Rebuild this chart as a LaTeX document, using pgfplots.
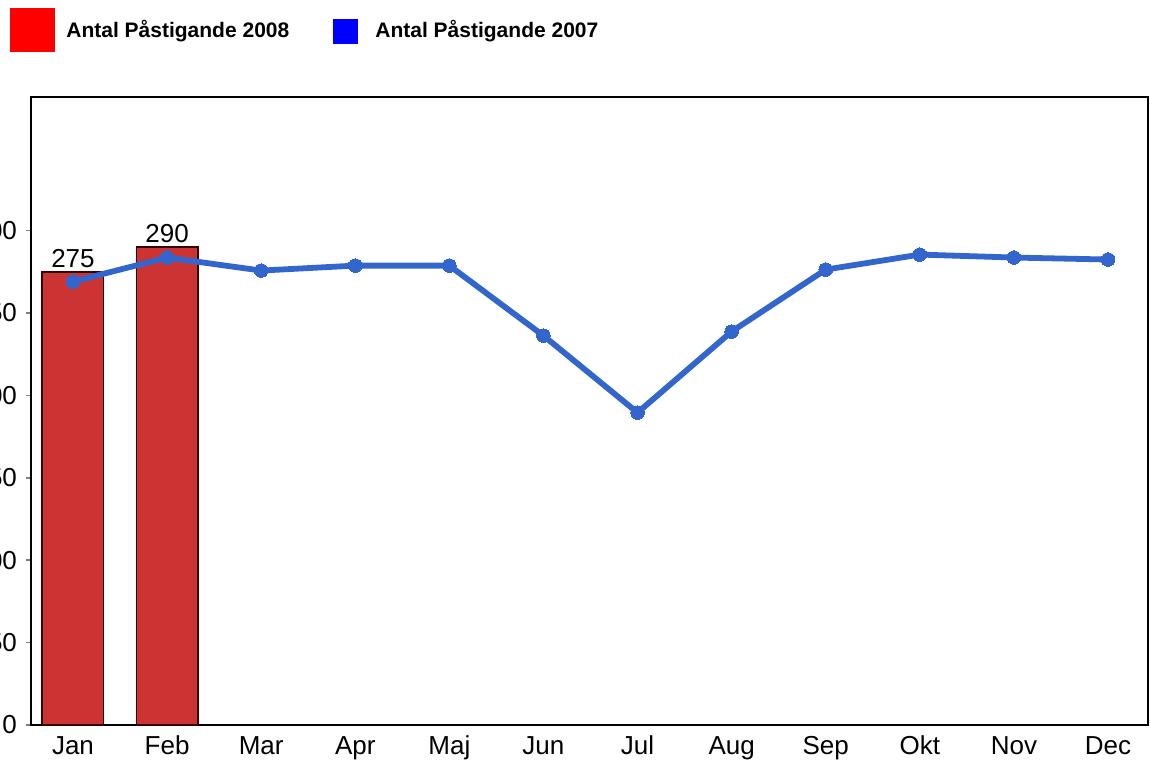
\documentclass[border=0pt]{standalone}
\usepackage{fontspec}
\setmainfont{Liberation Sans}
\usepackage{pgfplots}
\pgfplotsset{compat=1.18}
\definecolor{barred}{HTML}{CC3333}
\definecolor{barline}{HTML}{330000}
\definecolor{lineblue}{HTML}{3366CC}
\begin{document}
\begin{tikzpicture}[x=1pt,y=1pt]
\useasboundingbox (0,0) rectangle (575,381);
\clip (0,0) rectangle (575,381);
\begin{axis}[
  at={(15.5pt,18.5pt)}, anchor=south west,
  scale only axis, width=558.5pt, height=314pt,
  xmin=-0.446, xmax=11.425, ymin=0, ymax=381,
  xtick={0,...,11},
  xticklabels={Jan,Feb,Mar,Apr,Maj,Jun,Jul,Aug,Sep,Okt,Nov,Dec},
  ytick={0,50,...,300},
  axis line style={line width=1pt},
  tick align=outside, ytick pos=left, xtick pos=bottom,
  major tick length=2.5pt,
  xtick style={draw=none},
  ytick style={line width=0.8pt},
  tick label style={font=\fontsize{13}{15}\selectfont},
  /pgf/number format/assume math mode=true,
  yticklabel style={xshift=-1pt},
  xticklabel style={anchor=base, yshift=-12pt},
]
\addplot[ybar, bar width=0.65, fill=barred, draw=barline, line width=0.9pt,
  nodes near coords,
  nodes near coords style={font=\fontsize{13}{15}\selectfont, inner sep=1.5pt, text=black}]
  coordinates {(0,275) (1,290)};
\addplot[lineblue, line width=2.9pt, mark=*, mark size=3.4pt,
  mark options={fill=lineblue, draw=lineblue, line width=0pt}]
  coordinates {(0,269) (1,283.6) (2,275.7) (3,278.7) (4,278.7) (5,236.2)
               (6,189.5) (7,238.7) (8,276.3) (9,285.4) (10,283.6) (11,282.4)};
\end{axis}
\fill[red] (5,355) rectangle (27.5,377);
\node[anchor=west, inner sep=0pt, font=\fontsize{10.5}{12}\selectfont\bfseries] at (33,365.5) {Antal Påstigande 2008};
\fill[blue] (166.5,359) rectangle (179,371.5);
\node[anchor=west, inner sep=0pt, font=\fontsize{10.5}{12}\selectfont\bfseries] at (187.5,365.5) {Antal Påstigande 2007};
\end{tikzpicture}
\end{document}
